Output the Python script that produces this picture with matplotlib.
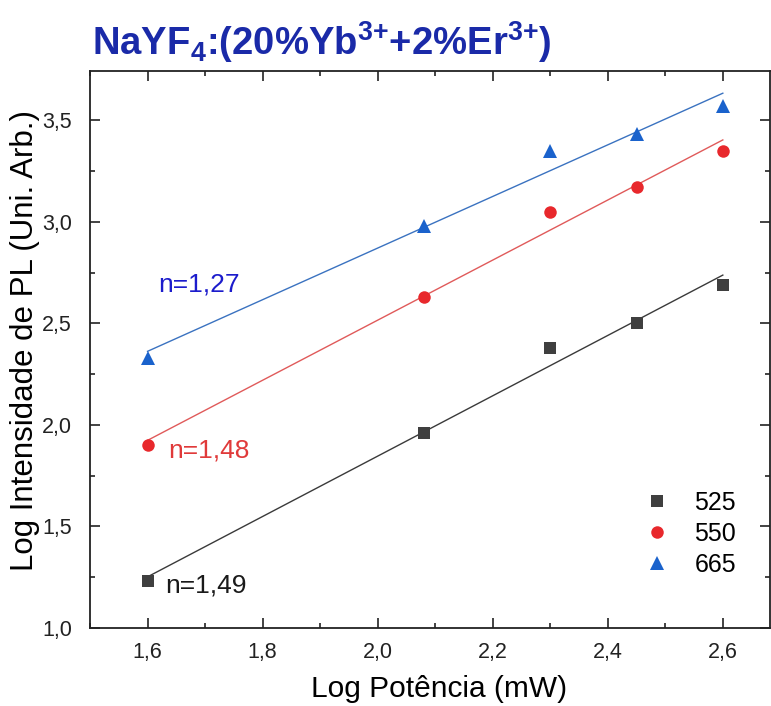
import numpy as np
import matplotlib
matplotlib.use('Agg')
import matplotlib.pyplot as plt
from matplotlib import font_manager
from matplotlib.ticker import FuncFormatter, MultipleLocator

# data
log_power = [1.6, 2.08, 2.30, 2.45, 2.60]
series_names = ['525', '550', '665']
y_525 = [1.23, 1.96, 2.38, 2.50, 2.69]
y_550 = [1.90, 2.63, 3.05, 3.17, 3.35]
y_665 = [2.33, 2.98, 3.35, 3.43, 3.57]
slope_labels = ['n=1,49', 'n=1,48', 'n=1,27']

names = {f.name for f in font_manager.fontManager.ttflist}
fam = 'Liberation Sans Narrow' if 'Liberation Sans Narrow' in names else 'Liberation Sans'
plt.rcParams['font.family'] = [fam, 'DejaVu Sans']
plt.rcParams['mathtext.fontset'] = 'custom'
plt.rcParams['mathtext.rm'] = fam
plt.rcParams['mathtext.bf'] = fam + ':bold'

marker_color = {'525': '#3f3f3f', '550': '#e8282c', '665': '#1a62cc'}
line_color = {'525': '#3a3a3a', '550': '#e05a5a', '665': '#3a72c0'}
markers = {'525': 's', '550': 'o', '665': '^'}
msize = {'525': 8, '550': 9, '665': 10}
text_color = {'525': '#1a1a1a', '550': '#e03a3a', '665': '#1c1ccc'}
text_pos = {'525': (1.63, 1.21), '550': (1.636, 1.876), '665': (1.618, 2.693)}

fig = plt.figure(figsize=(7.71, 7.06), dpi=100)
ax = fig.add_axes([90 / 771, 78 / 706, 680 / 771, 557 / 706])

for name, ys, lab in zip(series_names, [y_525, y_550, y_665], slope_labels):
    x = np.array(log_power)
    y = np.array(ys)
    k, b = np.polyfit(x, y, 1)
    xf = np.array([x.min(), x.max()])
    ax.plot(xf, k * xf + b, color=line_color[name], linewidth=1.0, zorder=2)
    ax.plot(x, y, linestyle='none', marker=markers[name], markersize=msize[name],
            color=marker_color[name], markeredgewidth=0, label=name, zorder=3)
    tx, ty = text_pos[name]
    ax.text(tx, ty, lab, color=text_color[name], fontsize=19, va='center', ha='left')

ax.set_xlim(1.5, 2.682)
ax.set_ylim(1.0, 3.742)
ax.xaxis.set_major_locator(MultipleLocator(0.2))
ax.xaxis.set_minor_locator(MultipleLocator(0.1))
ax.yaxis.set_major_locator(MultipleLocator(0.5))
ax.yaxis.set_minor_locator(MultipleLocator(0.25))
comma = FuncFormatter(lambda v, p: f'{v:.1f}'.replace('.', ','))
ax.xaxis.set_major_formatter(comma)
ax.yaxis.set_major_formatter(comma)
ax.tick_params(which='both', direction='in', top=True, right=True, width=1.2, colors='#222222')
ax.tick_params(which='major', length=7, labelsize=15.5)
ax.tick_params(which='minor', length=3.5)
ax.tick_params(axis='x', which='major', pad=10)
ax.tick_params(axis='y', which='major', pad=13)
for s in ax.spines.values():
    s.set_linewidth(1.3)
    s.set_color('#222222')

ax.set_xlabel('Log Potência (mW)', fontsize=21.5)
ax.set_ylabel('Log Intensidade de PL (Uni. Arb.)', fontsize=22.5)
ax.xaxis.set_label_coords(0.513, -0.085)
ax.yaxis.set_label_coords(-0.073, 0.517)

fig.text(92 / 771, 1 - 42 / 706,
         r'NaYF$_\mathbf{4}$:(20%Yb$^\mathbf{3{+}}$+2%Er$^\mathbf{3{+}}$)',
         fontsize=27.5, fontweight='bold', color='#1a2aa8', va='center', ha='left')

ax.legend(loc='lower right', bbox_to_anchor=(0.95, 0.092), frameon=False,
          fontsize=18, handlelength=1.0, handletextpad=1.0, labelspacing=0.28,
          borderpad=0, borderaxespad=0)

fig.savefig('out.png', dpi=100)
